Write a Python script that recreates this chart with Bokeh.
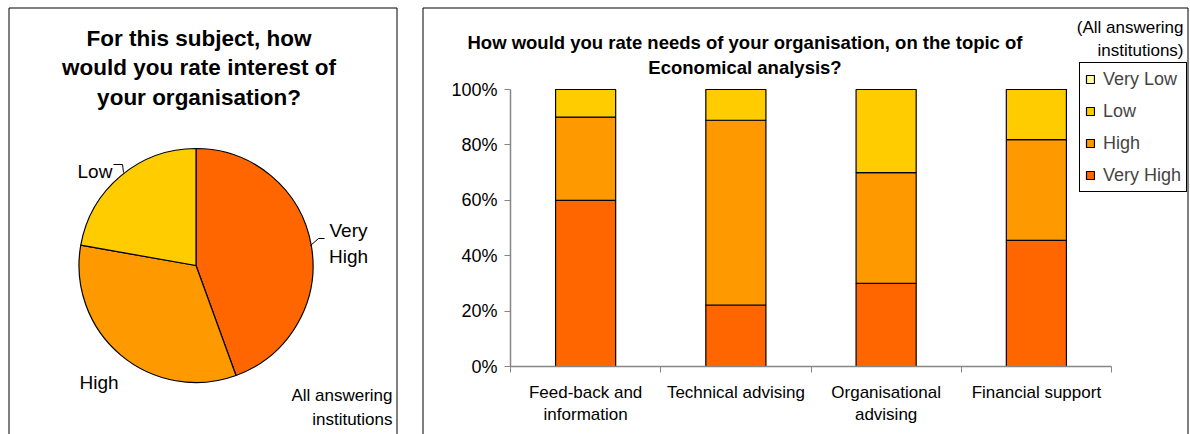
import numpy as np
from bokeh.plotting import figure
from bokeh.models import (Range1d, ColumnDataSource, Label, BoxAnnotation, FixedTicker,
                          NumeralTickFormatter, Legend, LegendItem)
from bokeh.layouts import row
from bokeh.embed import file_html
from bokeh.resources import INLINE

FONT = "Liberation Sans"
AXIS_GRAY = "#868686"

# ---------------- data ----------------
pie_title = ["For this subject, how", "would you rate interest of", "your organisation?"]
pie_cats = ["Very High", "High", "Low"]
pie_counts = [4, 3, 2]
pie_colors = ["#FF6600", "#FF9900", "#FFCC00"]

bar_title = ["How would you rate needs of your organisation, on the topic of", "Economical analysis?"]
bar_cats = ["Feed-back and\ninformation", "Technical advising", "Organisational\nadvising", "Financial support"]
very_high = [0.600, 0.222, 0.300, 0.455]
high = [0.300, 0.667, 0.400, 0.364]
low = [0.100, 0.111, 0.300, 0.181]
very_low = [0.0, 0.0, 0.0, 0.0]
levels = ["Very High", "High", "Low", "Very Low"]
level_colors = ["#FF6600", "#FF9900", "#FFCC00", "#FFFF99"]
y_ticks = [0, 0.2, 0.4, 0.6, 0.8, 1.0]
note = ["All answering", "institutions"]

H = 434

# ---------------- pie panel (data units == page pixels, y up) ----------------
W1 = 410
p1 = figure(width=W1, height=H, x_range=Range1d(0, W1), y_range=Range1d(0, H),
            x_axis_type=None, y_axis_type=None, toolbar_location=None,
            output_backend="svg", min_border=0)
p1.outline_line_color = None


def py(v):  # page y -> data y
    return H - v


vals = np.array(pie_counts, dtype=float)
cum = np.concatenate([[0.0], np.cumsum(vals / vals.sum())])
src1 = ColumnDataSource(dict(
    start=np.pi / 2 - 2 * np.pi * cum[:-1],
    end=np.pi / 2 - 2 * np.pi * cum[1:],
    color=pie_colors,
    x=[195.5] * len(vals), y=[py(265)] * len(vals)))
p1.wedge(x="x", y="y", radius=117, radius_units="screen", start_angle="start",
         end_angle="end", direction="clock", fill_color="color",
         line_color="black", line_width=1.2, source=src1)

for t, yy in zip(pie_title, [38, 67, 97]):
    p1.add_layout(Label(x=198.5, y=py(yy), text=t, text_align="center",
                        text_baseline="alphabetic", text_font=FONT, text_font_size="22.5px",
                        text_font_style="bold", text_color="black"))

for word, yy in zip(pie_cats[0].split(" "), [230, 256]):
    p1.add_layout(Label(x=348, y=py(yy), text=word, text_align="center",
                        text_baseline="alphabetic", text_font=FONT, text_font_size="19px",
                        text_color="black"))
p1.add_layout(Label(x=79, y=py(381.5), text=pie_cats[1], text_align="left",
                    text_baseline="alphabetic", text_font=FONT, text_font_size="19px",
                    text_color="black"))
p1.add_layout(Label(x=77, y=py(170.5), text=pie_cats[2], text_align="left",
                    text_baseline="alphabetic", text_font=FONT, text_font_size="19px",
                    text_color="black"))
# leader lines
p1.line([113, 122, 123], [py(164), py(164), py(172)], line_color="black", line_width=1)
p1.line([310, 318, 324], [py(245), py(238), py(238)], line_color="black", line_width=1)

for t, yy in zip(note, [395, 418.5]):
    p1.add_layout(Label(x=392, y=py(yy), text=t, text_align="right",
                        text_baseline="alphabetic", text_font=FONT, text_font_size="17px",
                        text_color="black"))

p1.add_layout(BoxAnnotation(left=8.5, right=396.5, top=py(7.5), bottom=-20,
                            fill_color=None, fill_alpha=0, line_color="black",
                            line_width=1, line_alpha=1))

# ---------------- bar panel ----------------
X0 = 410            # page x of this canvas
W2 = 1190 - X0
AX_L, AX_R = 510, 1111   # page x of category 0 and category n edges
AX_B, AX_T = 366, 89     # page y of 0% and 100%
n = len(bar_cats)
ux = (AX_R - AX_L) / n
uy = (AX_B - AX_T) / 1.0
p2 = figure(width=W2, height=H,
            x_range=Range1d((X0 - AX_L) / ux, (X0 + W2 - AX_L) / ux),
            y_range=Range1d(-(H - AX_B) / uy, AX_B / uy),
            toolbar_location=None, output_backend="svg", min_border=0)
p2.outline_line_color = None
p2.xgrid.visible = False
p2.ygrid.visible = False

data2 = {"x": np.arange(n) + 0.5, "Very High": very_high, "High": high,
         "Low": low, "Very Low": very_low}
src2 = ColumnDataSource(data2)
rs = p2.vbar_stack(levels, x="x", width=0.4, fill_color=level_colors,
                   line_color="black", line_width=1.2, source=src2)

xa = p2.xaxis[0]
xa.fixed_location = 0
xa.bounds = (0, n)
xa.ticker = FixedTicker(ticks=list(np.arange(n) + 0.5), minor_ticks=list(range(n + 1)))
xa.major_label_overrides = {float(i + 0.5): c for i, c in enumerate(bar_cats)}
xa.major_tick_line_color = None
xa.major_tick_out = 0
xa.major_tick_in = 0
xa.minor_tick_line_color = AXIS_GRAY
xa.minor_tick_out = 6
xa.minor_tick_in = 0
xa.axis_line_color = AXIS_GRAY
xa.axis_line_width = 1.5
xa.major_label_text_font = FONT
xa.major_label_text_font_size = "17px"
xa.major_label_text_color = "black"
xa.major_label_standoff = 10

ya = p2.yaxis[0]
ya.fixed_location = 0
ya.bounds = (0, 1)
ya.ticker = FixedTicker(ticks=y_ticks, minor_ticks=[])
ya.formatter = NumeralTickFormatter(format="0%")
ya.axis_line_color = AXIS_GRAY
ya.axis_line_width = 1.5
ya.major_tick_line_color = AXIS_GRAY
ya.major_tick_out = 6
ya.major_tick_in = 0
ya.minor_tick_line_color = None
ya.major_label_text_font = FONT
ya.major_label_text_font_size = "18px"
ya.major_label_text_color = "black"
ya.major_label_standoff = 7


def sx(v):  # page x -> screen x of p2 frame
    return v - X0


def sy(v):  # page y -> screen y of p2 frame (from bottom)
    return H - v


for t, yy in zip(bar_title, [41.7, 66.7]):
    p2.add_layout(Label(x=sx(744.5), y=sy(yy), x_units="screen", y_units="screen", text=t,
                        text_align="center", text_baseline="alphabetic", text_font=FONT,
                        text_font_size="18.5px", text_font_style="bold", text_color="black"))
for t, yy in zip(["(" + note[0], note[1] + ")"], [27, 50]):
    p2.add_layout(Label(x=sx(1183), y=sy(yy), x_units="screen", y_units="screen", text=t,
                        text_align="right", text_baseline="alphabetic", text_font=FONT,
                        text_font_size="17px", text_color="black"))

items = [LegendItem(label=lvl, renderers=[r]) for lvl, r in zip(levels, rs)][::-1]
legend = Legend(items=items, location=(sx(1079), sy(192)), border_line_color="black",
                border_line_width=1, border_line_alpha=1, background_fill_color="white",
                background_fill_alpha=1, padding=5, spacing=10, margin=0,
                label_text_font=FONT, label_text_font_size="18px", glyph_width=10,
                glyph_height=10, label_height=22, label_standoff=8)
p2.add_layout(legend)

p2.add_layout(BoxAnnotation(left=sx(422.5), right=sx(1187.5), top=sy(7.5), bottom=-20,
                            left_units="screen", right_units="screen",
                            top_units="screen", bottom_units="screen",
                            fill_color=None, fill_alpha=0, line_color="black",
                            line_width=1, line_alpha=1))

layout = row(p1, p2)
open("out.html", "w").write(file_html(layout, INLINE))
